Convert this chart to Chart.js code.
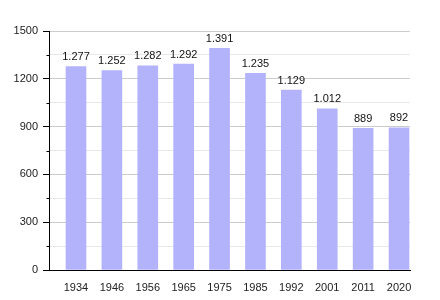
<!DOCTYPE html>
<html>
<head>
<meta charset="utf-8">
<script src="https://cdn.jsdelivr.net/npm/chart.js@4.4.1/dist/chart.umd.min.js"></script>
<style>
  html, body { margin: 0; padding: 0; background: #fff; }
  #wrap { width: 440px; height: 300px; }
</style>
</head>
<body>
<div id="wrap"><canvas id="myChart"></canvas></div>
<script>
'use strict';

const years = ['1934', '1946', '1956', '1965', '1975', '1985', '1992', '2001', '2011', '2020'];
const population = [1277, 1252, 1282, 1292, 1391, 1235, 1129, 1012, 889, 892];
const yTicks = [0, 300, 600, 900, 1200, 1500];

const chartEl = document.getElementById('myChart');

// value labels above the bars, "1.277" style
const barLabels = {
  id: 'barLabels',
  afterDatasetsDraw(chart) {
    const ctx = chart.ctx;
    const meta = chart.getDatasetMeta(0);
    ctx.save();
    ctx.font = '11px "Liberation Sans", Arial, sans-serif';
    ctx.fillStyle = '#111';
    ctx.textAlign = 'center';
    ctx.textBaseline = 'bottom';
    meta.data.forEach((bar, i) => {
      ctx.fillText(population[i].toLocaleString('de-DE'), bar.x, bar.y - 4);
    });
    ctx.restore();
  }
};

// y axis line + short minor ticks
const yAxisLine = {
  id: 'yAxisLine',
  afterDraw(chart) {
    const ctx = chart.ctx;
    const y = chart.scales.y;
    const left = Math.round(chart.chartArea.left) + 0.5;
    ctx.save();
    ctx.strokeStyle = '#000';
    ctx.lineWidth = 1;
    ctx.beginPath();
    ctx.moveTo(left, chart.chartArea.top);
    ctx.lineTo(left, chart.chartArea.bottom);
    y.ticks.forEach(t => {
      if (t.value % 300 !== 0) {
        const py = Math.round(y.getPixelForValue(t.value)) + 0.5;
        ctx.moveTo(left - 3, py);
        ctx.lineTo(left, py);
      }
    });
    ctx.stroke();
    ctx.restore();
  }
};

function drawChart() {
  return new Chart(chartEl, {
    type: 'bar',
    data: {
      datasets: [{
        data: population.map((v, i) => ({x: i, y: v})),
        backgroundColor: '#b3b3fb',
        borderWidth: 0,
        barThickness: 20,
      }]
    },
    options: {
      responsive: true,
      maintainAspectRatio: false,
      animation: false,
      layout: {
        padding: {top: 31, right: 30, bottom: 0, left: 0},
      },
      plugins: {
        legend: {display: false},
        tooltip: {enabled: false},
      },
      scales: {
        x: {
          type: 'linear',
          offset: false,
          min: -0.752,
          max: 9.306,
          afterBuildTicks: scale => {
            scale.ticks = years.map((y, i) => ({value: i}));
          },
          afterFit: scale => { scale.height = 30; },
          grid: {display: false},
          border: {display: true, color: '#000', width: 1},
          ticks: {
            padding: 3,
            color: '#222',
            font: {size: 11},
            maxRotation: 0,
            autoSkip: false,
            callback: v => years[v],
          },
        },
        y: {
          min: 0,
          max: 1500,
          afterBuildTicks: scale => {
            const t = [];
            for (let v = 0; v <= 1500; v += 150) t.push({value: v});
            scale.ticks = t;
          },
          afterFit: scale => { scale.width = 49; },
          border: {display: false},
          grid: {
            color: c => (c.tick && c.tick.value % 300 === 0) ? '#cccccc' : '#e8e8e8',
            tickColor: c => (c.tick && c.tick.value % 300 === 0) ? '#000' : 'rgba(0,0,0,0)',
            tickLength: 6,
          },
          ticks: {
            padding: 5,
            color: '#222',
            font: {size: 11},
            autoSkip: false,
            callback: v => yTicks.includes(v) ? String(v) : '',
          },
        },
      },
    },
    plugins: [barLabels, yAxisLine],
  });
}

Chart.defaults.font.family = '"Liberation Sans", Arial, sans-serif';
drawChart();
</script>
</body>
</html>
